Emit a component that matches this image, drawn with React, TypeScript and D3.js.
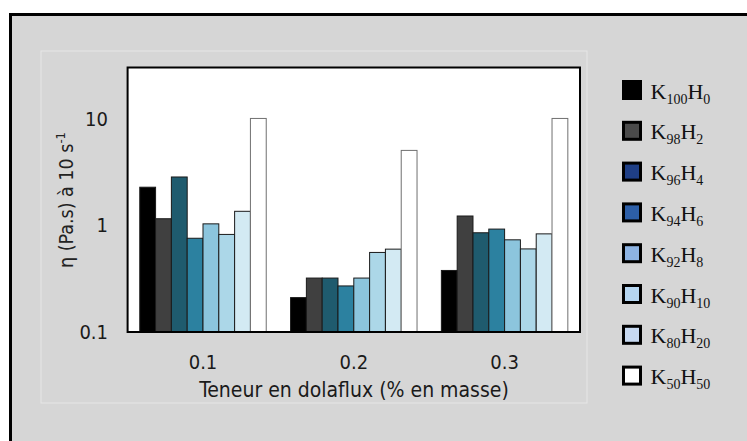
import React from "react";
import * as d3 from "d3";

const groups = ["0.1", "0.2", "0.3"];
const seriesK = ["100", "98", "96", "94", "92", "90", "80", "50"];
const seriesH = ["0", "2", "4", "6", "8", "10", "20", "50"];
const barColors = ["#000000", "#404040", "#1f5b6e", "#2c81a0", "#8cc5dd", "#acd7e8", "#d3eaf3", "#ffffff"];
const legendColors = ["#000000", "#4a4a4a", "#1f3f86", "#2d5fa8", "#8db3e2", "#b5d5f0", "#c7d9f1", "#ffffff"];
// values per series: [0.1, 0.2, 0.3]
const K100H0 = [2.27, 0.21, 0.377];
const K98H2 = [1.15, 0.32, 1.22];
const K96H4 = [2.83, 0.32, 0.85];
const K94H6 = [0.755, 0.27, 0.92];
const K92H8 = [1.03, 0.32, 0.73];
const K90H10 = [0.82, 0.556, 0.6];
const K80H20 = [1.35, 0.597, 0.83];
const K50H50 = [10, 5.02, 10];
const seriesValues = [K100H0, K98H2, K96H4, K94H6, K92H8, K90H10, K80H20, K50H50];
const yTicks = [0.1, 1, 10];

const W = 747;
const H = 441;
const plot = { left: 127.6, right: 580, top: 67.5, bottom: 332 };
const axisFont = "'DejaVu Sans Condensed', 'DejaVu Sans', sans-serif";
const serifFont = "'Liberation Serif', 'Times New Roman', serif";

export default function App() {
  const x0 = d3.scaleBand<string>().domain(groups).range([plot.left, plot.right]).padding(0);
  const x1 = d3
    .scaleBand<number>()
    .domain(d3.range(seriesValues.length))
    .range([0, x0.bandwidth()])
    .paddingInner(0)
    .paddingOuter(0.77);
  const y = d3.scaleLog().domain([0.1, 30]).range([plot.bottom, plot.top]);

  return (
    <svg width={W} height={H} style={{ position: "absolute", left: 0, top: 0 }}>
      <rect x={0} y={0} width={W} height={H} fill="#ffffff" />
      <rect x={10.5} y={14.5} width={900} height={600} fill="#d6d6d6" stroke="#000" strokeWidth={3} />
      <rect x={41} y={51} width={546} height={352} fill="#d6d6d6" stroke="#e6e6e6" strokeWidth={1} />
      <rect
        x={plot.left}
        y={plot.top}
        width={plot.right - plot.left}
        height={plot.bottom - plot.top}
        fill="#ffffff"
      />
      {groups.map((g, gi) => (
        <g key={g} transform={`translate(${x0(g)},0)`}>
          {seriesValues.map((vals, si) => {
            const v = vals[gi];
            const yy = y(v);
            return (
              <rect
                key={si}
                x={x1(si)}
                y={yy}
                width={x1.bandwidth()}
                height={plot.bottom - yy}
                fill={barColors[si]}
                stroke={si === 7 ? "#707070" : "#1a1a1a"}
                strokeWidth={1}
              />
            );
          })}
        </g>
      ))}
      <rect
        x={plot.left}
        y={plot.top}
        width={plot.right - plot.left}
        height={plot.bottom - plot.top}
        fill="none"
        stroke="#000"
        strokeWidth={2}
      />
      {yTicks.map((t) => (
        <text
          key={t}
          x={108}
          y={y(t)}
          dy="0.36em"
          textAnchor="end"
          fontFamily={axisFont}
          fontSize={20}
          fill="#1a1a1a"
        >
          {String(t)}
        </text>
      ))}
      {groups.map((g) => (
        <text
          key={g}
          x={(x0(g) as number) + x0.bandwidth() / 2}
          y={368.5}
          textAnchor="middle"
          fontFamily={axisFont}
          fontSize={20}
          fill="#1a1a1a"
        >
          {g}
        </text>
      ))}
      <text x={354} y={396.5} textAnchor="middle" fontFamily={axisFont} fontSize={21} fill="#1a1a1a">
        Teneur en dolaflux (% en masse)
      </text>
      <text
        transform="translate(73,200) rotate(-90)"
        textAnchor="middle"
        fontFamily={axisFont}
        fontSize={19.5}
        fill="#222"
      >
        η (Pa.s) à 10 s
        <tspan fontSize={13} dy={-8}>
          -1
        </tspan>
      </text>
      {seriesK.map((k, i) => {
        const top = 80 + i * 40.8;
        return (
          <g key={k}>
            <rect x={623.5} y={top + 1.5} width={17} height={17} fill={legendColors[i]} stroke="#000" strokeWidth={3} />
            <text x={650.5} y={top + 18.5} fontFamily={serifFont} fontSize={22} fill="#111">
              K
              <tspan fontSize={14} dy={5}>
                {k}
              </tspan>
              <tspan dy={-5}>H</tspan>
              <tspan fontSize={14} dy={5}>
                {seriesH[i]}
              </tspan>
            </text>
          </g>
        );
      })}
    </svg>
  );
}
